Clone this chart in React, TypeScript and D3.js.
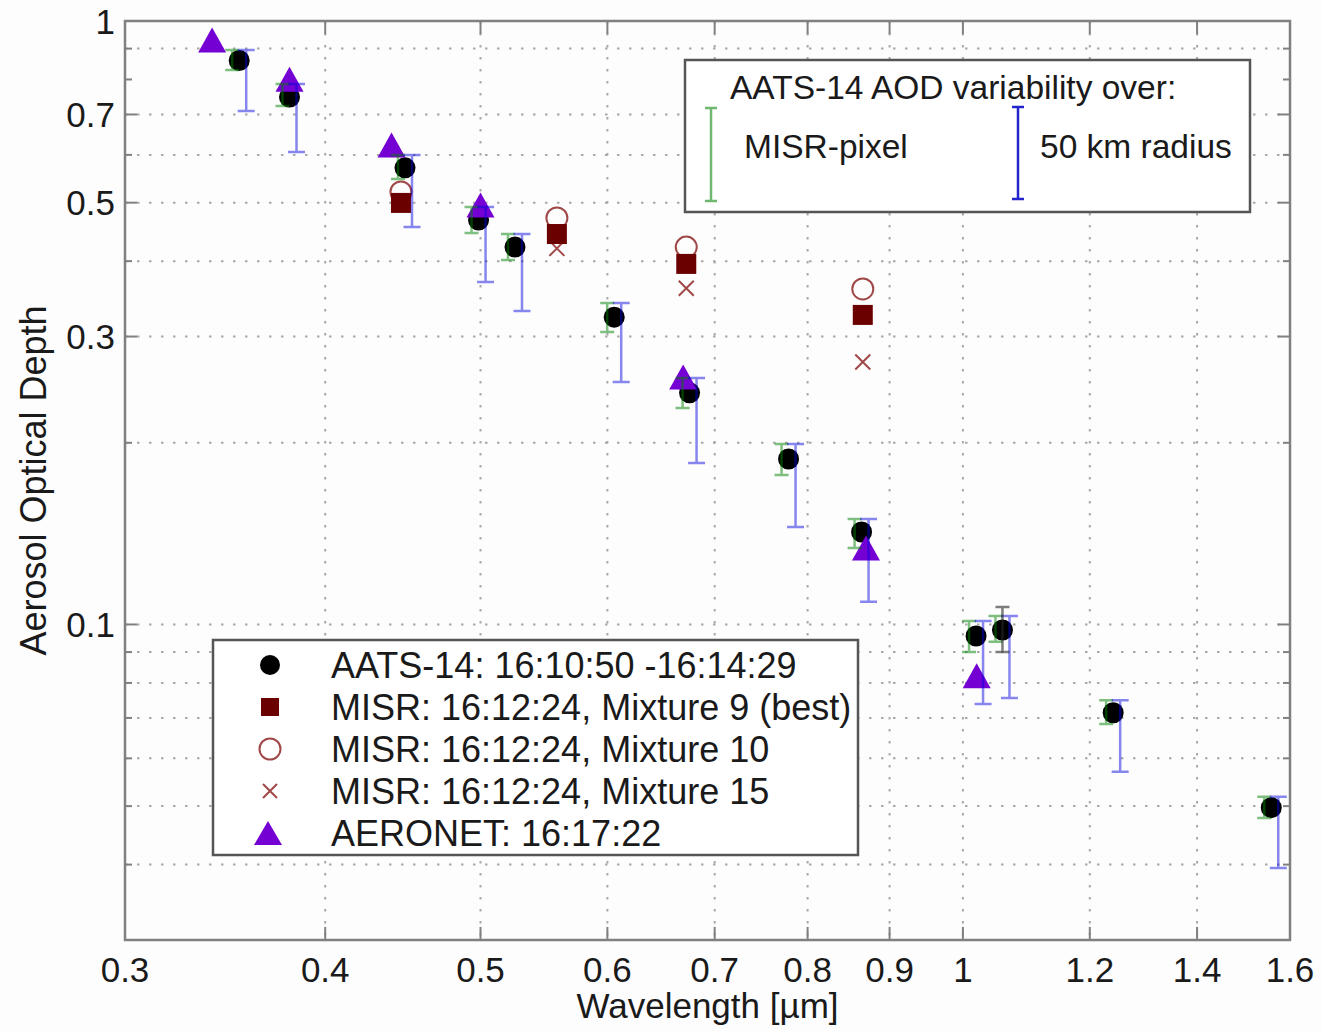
import React from 'react';
import * as d3 from 'd3';

// ---- Data ----
const aatsWavelength = [0.3535, 0.380, 0.4486, 0.4986, 0.5254, 0.6059, 0.6752, 0.7784, 0.8645, 1.0191, 1.0585, 1.2410, 1.5575];
const aatsAod = [0.860, 0.748, 0.571, 0.468, 0.422, 0.323, 0.242, 0.188, 0.1423, 0.0957, 0.0979, 0.0714, 0.0497];
// variability over MISR pixel (green)
const pixelLo = [0.8295, 0.7232, 0.5473, 0.4452, 0.4018, 0.3052, 0.2284, 0.1769, 0.1339, 0.0900, 0.0936, 0.0684, 0.0478];
const pixelHi = [0.8952, 0.786, 0.5998, 0.4917, 0.4436, 0.3409, 0.2561, 0.1991, 0.1495, 0.1013, 0.1033, 0.0749, 0.0518];
// variability over 50 km radius (blue)
const radiusLo = [0.7092, 0.6066, 0.4556, 0.3694, 0.3307, 0.2522, 0.1852, 0.1450, 0.1091, 0.0738, 0.0755, 0.0570, 0.0395];
const radiusHi = [0.8952, 0.786, 0.5998, 0.4917, 0.4436, 0.3409, 0.2561, 0.1991, 0.1495, 0.1013, 0.1033, 0.0749, 0.0518];
// AATS uncertainty (only visible one)
const uncWavelength = [1.0585];
const uncLo = [0.0900];
const uncHi = [0.1069];

const misrWavelength = [0.446, 0.558, 0.672, 0.866];
const misrMix9 = [0.4995, 0.4436, 0.3958, 0.3258];
const misrMix10 = [0.521, 0.4716, 0.422, 0.3597];
const misrMix15 = [0.500, 0.420, 0.3606, 0.2723];

const aeronetWavelength = [0.340, 0.380, 0.440, 0.500, 0.669, 0.870, 1.020];
const aeronetAod = [0.930, 0.801, 0.623, 0.4956, 0.257, 0.1339, 0.0822];

const xTickValues = [0.3, 0.4, 0.5, 0.6, 0.7, 0.8, 0.9, 1, 1.2, 1.4, 1.6];
const xTickLabels = ['0.3', '0.4', '0.5', '0.6', '0.7', '0.8', '0.9', '1', '1.2', '1.4', '1.6'];
const xGridValues = [0.4, 0.5, 0.6, 0.7, 0.8, 0.9, 1, 1.2, 1.4];
const yTickValues = [0.1, 0.3, 0.5, 0.7, 1];
const yTickLabels = ['0.1', '0.3', '0.5', '0.7', '1'];
const yGridValues = [0.04, 0.05, 0.06, 0.07, 0.08, 0.09, 0.1, 0.2, 0.3, 0.4, 0.5, 0.6, 0.7, 0.9];
const yMinorTickValues = [0.04, 0.05, 0.06, 0.07, 0.08, 0.09, 0.2, 0.4, 0.6, 0.8, 0.9];

const legendLabels = [
  'AATS-14: 16:10:50 -16:14:29',
  'MISR: 16:12:24, Mixture 9 (best)',
  'MISR: 16:12:24, Mixture 10',
  'MISR: 16:12:24, Mixture 15',
  'AERONET: 16:17:22',
];
const varTitle = 'AATS-14 AOD variability over:';
const varLabels = ['MISR-pixel', '50 km radius'];

const FONT = "'Liberation Sans', Arial, Helvetica, sans-serif";
const C_BLACK = '#000000';
const C_SQ = '#6b0000';
const C_MISR = '#a04848';
const C_TRI = '#7400d4';
const C_GREEN = 'rgba(0,128,0,0.5)';
const C_BLUE = 'rgba(0,0,220,0.47)';
const C_GRAY = 'rgba(40,40,40,0.6)';

const X0 = 125, X1 = 1290, Y0 = 21, Y1 = 940;

function triPath(cx: number, cy: number, w: number, h: number) {
  return `M${cx},${cy - h / 2}L${cx + w / 2},${cy + h / 2}L${cx - w / 2},${cy + h / 2}Z`;
}

function ErrBar({ x, y1, y2, hw, color, sw = 2 }: { x: number; y1: number; y2: number; hw: number; color: string; sw?: number }) {
  return (
    <path
      d={`M${x},${y1}L${x},${y2}M${x - hw},${y1}L${x + hw},${y1}M${x - hw},${y2}L${x + hw},${y2}`}
      stroke={color}
      strokeWidth={sw}
      fill="none"
    />
  );
}

export default function App() {
  const x = d3.scaleLog().domain([0.3, 1.6]).range([X0, X1]);
  const y = d3.scaleLog().domain([0.03, 1]).range([Y1, Y0]);

  const gridStyle = { stroke: '#a8a8a8', strokeWidth: 2, strokeDasharray: '2.5,9.5' };
  const axisColor = '#808080';

  return (
    <svg width={1322} height={1031} style={{ position: 'absolute', left: 0, top: 0, background: '#fff' }} fontFamily={FONT}>
      <rect x={0} y={0} width={1322} height={1031} fill="#fdfdfd" />
      {/* grid */}
      {xGridValues.map((v) => (
        <line key={'gx' + v} x1={x(v)} x2={x(v)} y1={Y0} y2={Y1} {...gridStyle} />
      ))}
      {yGridValues.map((v) => (
        <line key={'gy' + v} x1={X0} x2={X1} y1={y(v)} y2={y(v)} {...gridStyle} />
      ))}

      {/* ticks */}
      {xTickValues.map((v) => (
        <g key={'tx' + v}>
          <line x1={x(v)} x2={x(v)} y1={Y1} y2={Y1 - 13} stroke={axisColor} strokeWidth={2} />
          <line x1={x(v)} x2={x(v)} y1={Y0} y2={Y0 + 13} stroke={axisColor} strokeWidth={2} />
        </g>
      ))}
      {yTickValues.map((v) => (
        <g key={'ty' + v}>
          <line x1={X0} x2={X0 + 12} y1={y(v)} y2={y(v)} stroke={axisColor} strokeWidth={2} />
          <line x1={X1} x2={X1 - 12} y1={y(v)} y2={y(v)} stroke={axisColor} strokeWidth={2} />
        </g>
      ))}
      {yMinorTickValues.map((v) => (
        <g key={'tmy' + v}>
          <line x1={X0} x2={X0 + 7} y1={y(v)} y2={y(v)} stroke={axisColor} strokeWidth={2} />
          <line x1={X1} x2={X1 - 7} y1={y(v)} y2={y(v)} stroke={axisColor} strokeWidth={2} />
        </g>
      ))}

      {/* MISR mixture 10 (open circles) */}
      {misrWavelength.map((w, i) => (
        <circle key={'m10' + i} cx={x(w)} cy={y(misrMix10[i])} r={10.5} fill="none" stroke={C_MISR} strokeWidth={2} />
      ))}
      {/* MISR mixture 15 (x) */}
      {misrWavelength.map((w, i) => {
        const cx = x(w), cy = y(misrMix15[i]), s = 7.5;
        return (
          <path key={'m15' + i} d={`M${cx - s},${cy - s}L${cx + s},${cy + s}M${cx - s},${cy + s}L${cx + s},${cy - s}`} stroke={C_MISR} strokeWidth={2} />
        );
      })}
      {/* MISR mixture 9 (squares) */}
      {misrWavelength.map((w, i) => (
        <rect key={'m9' + i} x={x(w) - 10} y={y(misrMix9[i]) - 10} width={20} height={20} fill={C_SQ} />
      ))}
      {/* AATS */}
      {aatsWavelength.map((w, i) => (
        <circle key={'aa' + i} cx={x(w)} cy={y(aatsAod[i])} r={10.5} fill={C_BLACK} />
      ))}
      {/* AERONET */}
      {aeronetWavelength.map((w, i) => (
        <path key={'ae' + i} d={triPath(x(w), y(aeronetAod[i]), 28, 25)} fill={C_TRI} />
      ))}

      {/* error bars */}
      {aatsWavelength.map((w, i) => (
        <ErrBar key={'eg' + i} x={x(w) - 7} y1={y(pixelLo[i])} y2={y(pixelHi[i])} hw={7} color={C_GREEN} sw={2.5} />
      ))}
      {aatsWavelength.map((w, i) => (
        <ErrBar key={'eb' + i} x={x(w) + 7} y1={y(radiusLo[i])} y2={y(radiusHi[i])} hw={8.5} color={C_BLUE} sw={2.5} />
      ))}
      {uncWavelength.map((w, i) => (
        <ErrBar key={'eu' + i} x={x(w)} y1={y(uncLo[i])} y2={y(uncHi[i])} hw={7} color={C_GRAY} sw={2.5} />
      ))}

      {/* frame */}
      <rect x={X0} y={Y0} width={X1 - X0} height={Y1 - Y0} fill="none" stroke={axisColor} strokeWidth={2.5} />

      {/* tick labels */}
      {xTickValues.map((v, i) => (
        <text key={'lx' + v} x={x(v)} y={982} fontSize={35} textAnchor="middle" fill="#1a1a1a">
          {xTickLabels[i]}
        </text>
      ))}
      {yTickValues.map((v, i) => (
        <text key={'ly' + v} x={115} y={y(v) + 12.5} fontSize={35} textAnchor="end" fill="#1a1a1a">
          {yTickLabels[i]}
        </text>
      ))}

      {/* axis titles */}
      <text x={(X0 + X1) / 2} y={1018} fontSize={35} textAnchor="middle" fill="#1a1a1a">
        Wavelength [µm]
      </text>
      <text transform={`translate(46,${(Y0 + Y1) / 2}) rotate(-90)`} fontSize={36} textAnchor="middle" fill="#1a1a1a">
        Aerosol Optical Depth
      </text>

      {/* variability legend */}
      <g>
        <rect x={685} y={60} width={565} height={152} fill="#fff" stroke="#555" strokeWidth={2.5} />
        <text x={730} y={99} fontSize={33.5} fill="#1a1a1a">{varTitle}</text>
        <ErrBar x={711} y1={108} y2={201} hw={6} color="#70b870" sw={2.5} />
        <text x={744} y={158} fontSize={33.5} fill="#1a1a1a">{varLabels[0]}</text>
        <ErrBar x={1018} y1={107} y2={199} hw={6} color="#2424cc" sw={2.5} />
        <text x={1040} y={158} fontSize={33.5} fill="#1a1a1a">{varLabels[1]}</text>
      </g>

      {/* symbols legend */}
      <g>
        <rect x={213} y={640} width={645} height={215} fill="#fff" stroke="#555" strokeWidth={2.5} />
        {legendLabels.map((lab, i) => {
          const cy = 665 + i * 42;
          const cx = 270;
          let marker: React.ReactNode = null;
          if (i === 0) marker = <circle cx={cx} cy={cy} r={10} fill={C_BLACK} />;
          if (i === 1) marker = <rect x={cx - 9} y={cy - 9} width={18} height={18} fill={C_SQ} />;
          if (i === 2) marker = <circle cx={cx} cy={cy} r={10.5} fill="none" stroke={C_MISR} strokeWidth={2} />;
          if (i === 3)
            marker = (
              <path d={`M${cx - 7},${cy - 7}L${cx + 7},${cy + 7}M${cx - 7},${cy + 7}L${cx + 7},${cy - 7}`} stroke={C_MISR} strokeWidth={2} />
            );
          if (i === 4) marker = <path d={triPath(cx - 2, cy, 28, 24)} fill={C_TRI} />;
          return (
            <g key={'lg' + i}>
              {marker}
              <text x={331} y={cy + 13} fontSize={36} fill="#1a1a1a">{lab}</text>
            </g>
          );
        })}
      </g>
    </svg>
  );
}
